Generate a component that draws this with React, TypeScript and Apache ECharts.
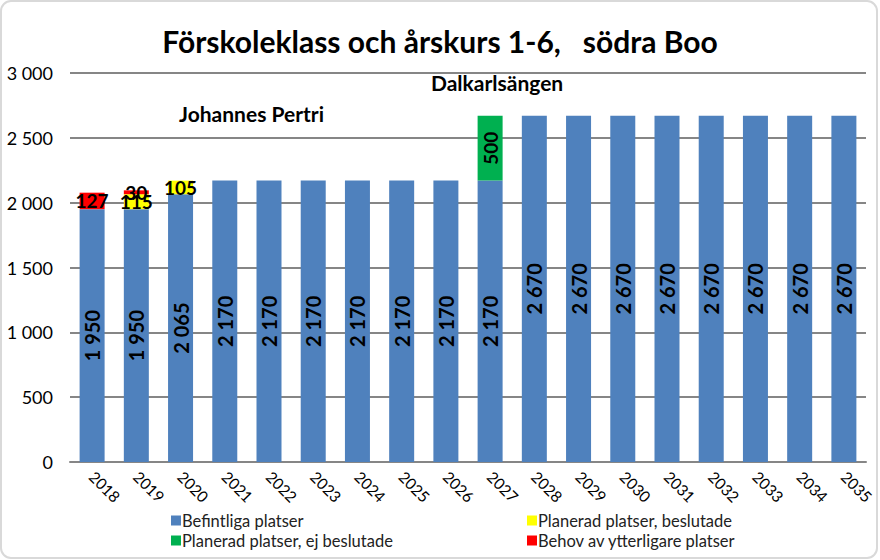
import React, { useEffect, useRef } from "react";
import * as echarts from "echarts";

const years = ["2018","2019","2020","2021","2022","2023","2024","2025","2026","2027","2028","2029","2030","2031","2032","2033","2034","2035"];
const befintliga = [1950,1950,2065,2170,2170,2170,2170,2170,2170,2170,2670,2670,2670,2670,2670,2670,2670,2670];
const beslutade = [null,115,105,null,null,null,null,null,null,null,null,null,null,null,null,null,null,null];
const ejBeslutade = [null,null,null,null,null,null,null,null,null,500,null,null,null,null,null,null,null,null];
const behov = [127,30,null,null,null,null,null,null,null,null,null,null,null,null,null,null,null,null];
const yTicks = [0, 500, 1000, 1500, 2000, 2500, 3000];

const FONT = "Lato";
const fmt = (v: number) => String(v).replace(/\B(?=(\d{3})+(?!\d))/g, " ");

export default function App() {
  const ref = useRef<HTMLDivElement>(null);
  useEffect(() => {
    const chart = echarts.init(ref.current!, undefined, { renderer: "svg" });
    const smallLabel = {
      show: true,
      position: "inside",
      color: "#000",
      fontWeight: "bold",
      fontSize: 19,
      fontFamily: FONT,
      formatter: (p: any) => (p.value ? fmt(p.value) : ""),
    };
    const legendText = { fontFamily: FONT, fontSize: 16.5, color: "#222", padding: [0, 0, 0, -4] };
    chart.setOption({
      animation: false,
      backgroundColor: "#fff",
      textStyle: { fontFamily: FONT },
      title: {
        text: "Förskoleklass och årskurs 1-6,\u00a0\u00a0\u00a0södra Boo",
        left: "center",
        top: 21,
        textStyle: { fontFamily: FONT, fontWeight: "bold", fontSize: 30, color: "#000" },
      },
      grid: { left: 70, right: 14, top: 73, bottom: 98 },
      xAxis: {
        type: "category",
        data: years,
        axisTick: { show: false },
        axisLine: { lineStyle: { color: "#868686", width: 2 } },
        axisLabel: { rotate: -45, fontSize: 15.5, color: "#000", fontFamily: FONT, margin: 12, interval: 0 },
      },
      yAxis: {
        type: "value",
        min: 0,
        max: 3000,
        interval: 500,
        axisLine: { show: false },
        axisTick: { show: false },
        splitLine: { lineStyle: { color: "#868686", width: 2 } },
        axisLabel: {
          fontSize: 18,
          color: "#000",
          fontFamily: FONT,
          margin: 17,
          formatter: (v: number) => (yTicks.includes(v) ? fmt(v) : ""),
        },
      },
      legend: [
        {
          left: 166,
          top: 507,
          orient: "vertical",
          itemGap: 3,
          itemWidth: 10,
          itemHeight: 10,
          icon: "rect",
          textStyle: legendText,
          data: ["Befintliga platser", "Planerad platser, ej beslutade"],
        },
        {
          left: 522,
          top: 507,
          orient: "vertical",
          itemGap: 3,
          itemWidth: 10,
          itemHeight: 10,
          icon: "rect",
          textStyle: legendText,
          data: ["Planerad platser, beslutade", "Behov av ytterligare platser"],
        },
      ],
      graphic: [
        {
          type: "text",
          left: 179,
          top: 103,
          style: { text: "Johannes Pertri", font: `bold 21px ${FONT}`, fill: "#000" },
        },
        {
          type: "text",
          left: 431,
          top: 72,
          style: { text: "Dalkarlsängen", font: `bold 21px ${FONT}`, fill: "#000" },
        },
        {
          type: "rect",
          shape: { x: 1, y: 1, width: 876, height: 557, r: 10 },
          style: { fill: "none", stroke: "#d9d9d9", lineWidth: 2 },
          silent: true,
        },
      ],
      series: [
        {
          name: "Befintliga platser",
          type: "bar",
          stack: "total",
          barWidth: 25,
          data: befintliga,
          itemStyle: { color: "#4F81BD" },
          label: {
            show: true,
            position: "inside",
            rotate: 90,
            color: "#000",
            fontWeight: "bold",
            fontSize: 20,
            fontFamily: FONT,
            formatter: (p: any) => fmt(p.value),
          },
        },
        {
          name: "Planerad platser, beslutade",
          type: "bar",
          stack: "total",
          data: beslutade,
          itemStyle: { color: "#FFFF00" },
          label: smallLabel,
        },
        {
          name: "Planerad platser, ej beslutade",
          type: "bar",
          stack: "total",
          data: ejBeslutade,
          itemStyle: { color: "#00B050" },
          label: { ...smallLabel, rotate: 90 },
        },
        {
          name: "Behov av ytterligare platser",
          type: "bar",
          stack: "total",
          data: behov,
          itemStyle: { color: "#FF0000" },
          label: smallLabel,
        },
      ],
    });
    return () => chart.dispose();
  }, []);
  return (
    <div
      ref={ref}
      style={{ position: "fixed", left: 0, top: 0, width: 880, height: 560 }}
    />
  );
}
